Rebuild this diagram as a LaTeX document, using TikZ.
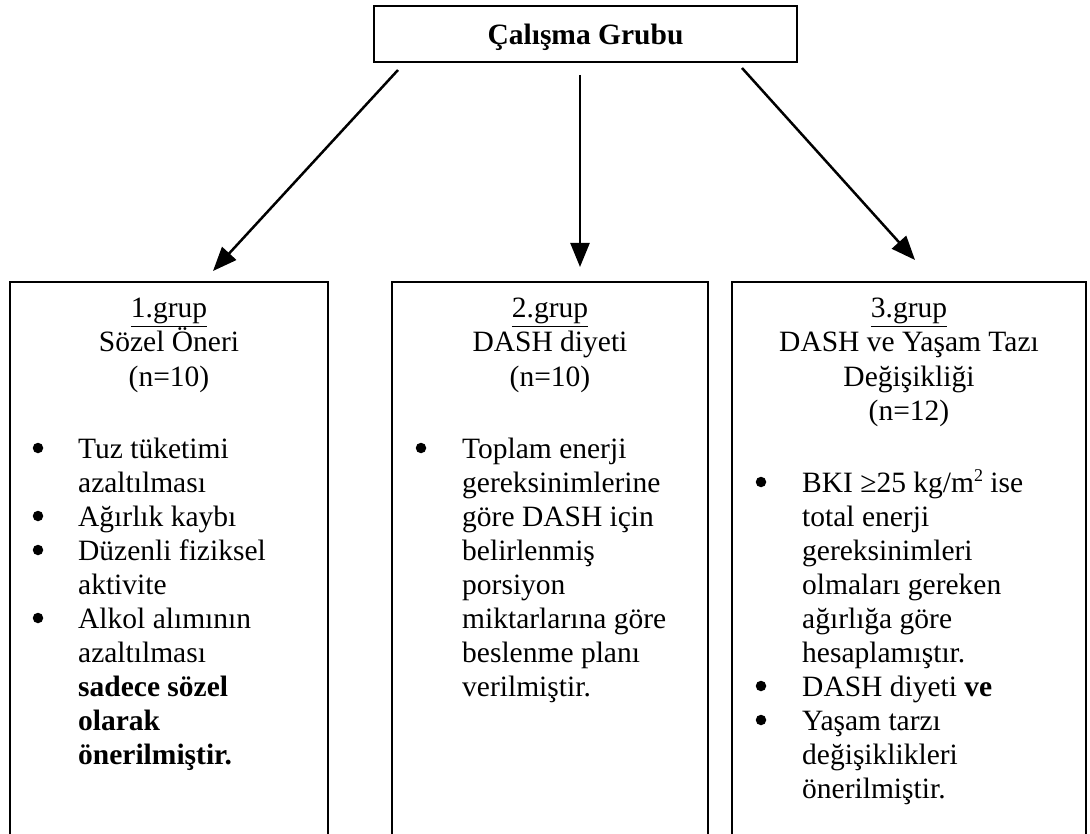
\documentclass[tikz,border=0pt]{standalone}
\usepackage{fontspec}
\setmainfont{Liberation Serif}
\usetikzlibrary{arrows.meta}
\newcommand{\mysq}{\raisebox{11pt}{\fontsize{18}{18}\selectfont 2}}
\begin{document}
\begin{tikzpicture}[x=1pt,y=-1pt,
  frame/.style={draw, line width=2pt, inner sep=0pt, outer sep=0pt},
  arr/.style={line width=2.5pt, -{Triangle[length=24pt,width=19pt]}},
  ln/.style={font=\fontsize{29.5}{34}\selectfont, inner sep=0pt},
  hd/.style={ln, anchor=base},
  it/.style={ln, anchor=base west},
  dot/.style={circle, fill, inner sep=0pt, minimum size=10.5pt}]
\useasboundingbox (0,0) rectangle (1090,834);

% top box
\node[frame, minimum width=423pt, minimum height=56pt] (top) at (585.5,34) {};
\node[hd, font=\fontsize{29.5}{34}\selectfont\bfseries] (title) at (585.5,45) {Çalışma Grubu};

% group boxes (open at the bottom: they run past the page edge)
\node[frame, minimum width=318pt, minimum height=620pt] (g1) at (169,592) {};
\node[frame, minimum width=316pt, minimum height=620pt] (g2) at (550,592) {};
\node[frame, minimum width=354pt, minimum height=620pt] (g3) at (909,592) {};

% arrows
\coordinate (a1s) at (398,70);  \coordinate (a1e) at (213,271);
\coordinate (a2s) at (580,75);  \coordinate (a2e) at (580,267);
\coordinate (a3s) at (742,68);  \coordinate (a3e) at (915,260);
\draw[arr] (a1s) -- (a1e);
\draw[arr] (a2s) -- (a2e);
\draw[arr] (a3s) -- (a3e);

% group 1
\node[hd] (h11) at (169,318) {\underline{1.grup}};
\node[hd] (h12) at (169,352) {Sözel Öneri};
\node[hd] (h13) at (169,386) {(n=10)};
\foreach \t [count=\i from 0] in {Tuz tüketimi, azaltılması, Ağırlık kaybı, Düzenli fiziksel, aktivite, Alkol alımının, azaltılması, \textbf{sadece sözel}, \textbf{olarak}, \textbf{önerilmiştir.}}
  \node[it] (l1-\i) at (78,458+34*\i) {\t};
\foreach \i in {0,2,3,5}
  \node[dot] (d1-\i) at (38,448+34*\i) {};

% group 2
\node[hd] (h21) at (550,318) {\underline{2.grup}};
\node[hd] (h22) at (550,352) {DASH diyeti};
\node[hd] (h23) at (550,386) {(n=10)};
\foreach \t [count=\i from 0] in {Toplam enerji, gereksinimlerine, göre DASH için, belirlenmiş, porsiyon, miktarlarına göre, beslenme planı, verilmiştir.}
  \node[it] (l2-\i) at (462,458+34*\i) {\t};
\node[dot] (d2-0) at (421,448) {};

% group 3
\node[hd] (h31) at (909,318) {\underline{3.grup}};
\node[hd] (h32) at (909,352) {DASH ve Yaşam Tazı};
\node[hd] (h33) at (909,386) {Değişikliği};
\node[hd] (h34) at (909,420) {(n=12)};
\foreach \t [count=\i from 0] in {BKI ≥25 kg/m\mysq{} ise, total enerji, gereksinimleri, olmaları gereken, ağırlığa göre, hesaplamıştır., DASH diyeti \textbf{ve}, Yaşam tarzı, değişiklikleri, önerilmiştir.}
  \node[it] (l3-\i) at (802,492+34*\i) {\t};
\foreach \i in {0,6,7}
  \node[dot] (d3-\i) at (761,482+34*\i) {};
\end{tikzpicture}
\end{document}
